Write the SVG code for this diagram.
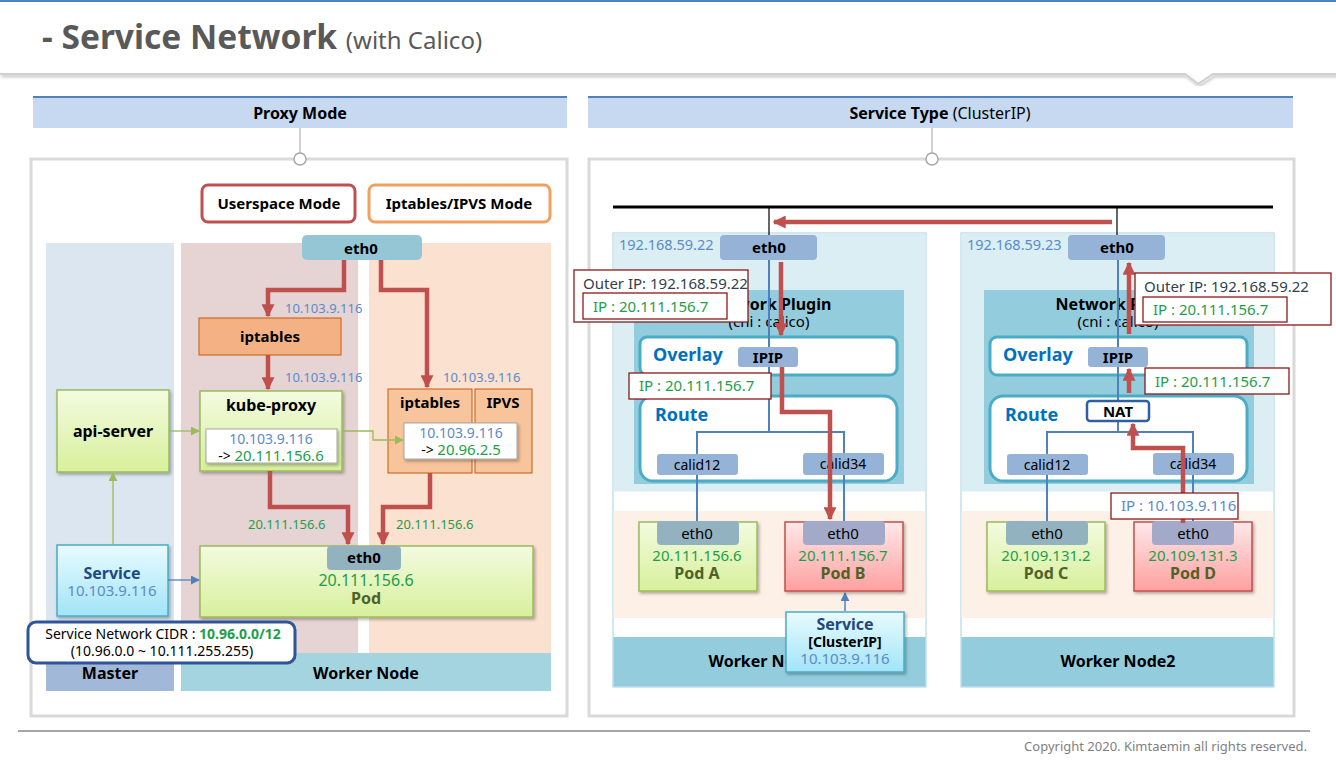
<svg xmlns="http://www.w3.org/2000/svg" width="1336" height="761" viewBox="0 0 1336 761">
<style>
text{font-family:"Noto Sans","Open Sans","Liberation Sans",sans-serif;}
.b{font-weight:bold;}
.c{text-anchor:middle;}
.lbl{font-size:13px;fill:#5b8bc9;}
.grn{fill:#1e9e4a;}
.blu{fill:#5b8bc9;}
.red{fill:none;stroke:#c0504d;stroke-width:4.5;}
.thinb{fill:none;stroke:#4f81bd;stroke-width:2;}
.hdr{fill:#c6d9f0;}
.panel{fill:#fff;stroke:#d9d9d9;stroke-width:3;}
.tag{fill:#95b3d7;}
.lbox{fill:#fff;stroke:#8b1a1a;stroke-width:1.3;}
.rbox{fill:#fff;stroke:#4bacc6;stroke-width:3;}
</style>
<defs>
<linearGradient id="gG" x1="0" y1="0" x2="0" y2="1"><stop offset="0" stop-color="#f3fbe0"/><stop offset="1" stop-color="#d7f09c"/></linearGradient>
<linearGradient id="gP" x1="0" y1="0" x2="0" y2="1"><stop offset="0" stop-color="#ffe8e8"/><stop offset="1" stop-color="#ffa0a0"/></linearGradient>
<linearGradient id="gC" x1="0" y1="0" x2="0" y2="1"><stop offset="0" stop-color="#e8fbff"/><stop offset="1" stop-color="#a2e4f8"/></linearGradient>
<filter id="sh" x="-10%" y="-10%" width="130%" height="130%"><feDropShadow dx="1.5" dy="2" stdDeviation="1.5" flood-color="#000" flood-opacity="0.3"/></filter>
<marker id="mr" viewBox="0 0 10 10" refX="9" refY="5" markerWidth="13" markerHeight="13" markerUnits="userSpaceOnUse" orient="auto"><path d="M0,0 L10,5 L0,10 z" fill="#c0504d"/></marker>
<marker id="mg" viewBox="0 0 10 10" refX="9" refY="5" markerWidth="9" markerHeight="9" markerUnits="userSpaceOnUse" orient="auto"><path d="M0,0 L10,5 L0,10 z" fill="#9bbb59"/></marker>
<marker id="mb" viewBox="0 0 10 10" refX="9" refY="5" markerWidth="9" markerHeight="9" markerUnits="userSpaceOnUse" orient="auto"><path d="M0,0 L10,5 L0,10 z" fill="#4f81bd"/></marker>
</defs>
<rect width="1336" height="761" fill="#fff"/>
<g id="title">
<rect x="0" y="0" width="1336" height="2" fill="#4f81bd"/>
<text x="42" y="49" font-size="33.5" class="b" fill="#595959">- Service Network <tspan font-size="24" font-weight="normal">(with Calico)</tspan></text>
<polyline points="0,74 1185,74 1198,84 1213,74 1336,74" fill="none" stroke="#d0d0d0" stroke-width="2" filter="url(#sh)"/>
</g>
<g id="footer">
<line x1="18" y1="731" x2="1310" y2="731" stroke="#a6a6a6" stroke-width="2"/>
<text x="1307" y="751" font-size="13" fill="#7f7f7f" text-anchor="end">Copyright 2020. Kimtaemin all rights reserved.</text>
</g>
<g id="proxy-mode-header">
<rect x="33" y="96" width="534" height="32" class="hdr"/>
<rect x="33" y="96" width="534" height="2" fill="#4f81bd"/>
<text x="300" y="119" font-size="16" class="b c">Proxy Mode</text>
<line x1="300" y1="128" x2="300" y2="153" stroke="#a6a6a6"/>
</g>
<g id="service-type-header">
<rect x="588" y="96" width="705" height="32" class="hdr"/>
<rect x="588" y="96" width="705" height="2" fill="#4f81bd"/>
<text x="940" y="119" font-size="16" class="c"><tspan class="b">Service Type</tspan> (ClusterIP)</text>
<line x1="932" y1="128" x2="932" y2="153" stroke="#a6a6a6"/>
</g>
<rect id="left-panel" x="31" y="159" width="536" height="557" class="panel"/>
<rect id="right-panel" x="589" y="159" width="705" height="557" class="panel"/>
<circle cx="300" cy="159" r="6" fill="#fff" stroke="#a6a6a6" stroke-width="1.5"/>
<circle cx="932" cy="159" r="6" fill="#fff" stroke="#a6a6a6" stroke-width="1.5"/>

<g id="userspace-mode"><rect x="202" y="185" width="153" height="37" rx="6" fill="#fff" stroke="#c0504d" stroke-width="3"/><text x="279" y="209" font-size="15" class="b c">Userspace Mode</text></g>
<g id="iptables-ipvs-mode"><rect x="369" y="185" width="181" height="37" rx="6" fill="#fff" stroke="#f0a060" stroke-width="3"/><text x="459" y="209" font-size="15" class="b c">Iptables/IPVS Mode</text></g>
<g id="master"><rect x="46" y="243" width="128" height="448" fill="#dce6f1"/><rect x="46" y="653" width="128" height="38" fill="#a2b8d8"/><text x="110" y="679" font-size="16" class="b c">Master</text></g>
<g id="worker-node"><rect x="181" y="243" width="177" height="410" fill="#e6d3d4"/><rect x="369" y="243" width="182" height="410" fill="#fbe1cf"/><rect x="181" y="653" width="370" height="38" fill="#a5d4e1"/><text x="366" y="679" font-size="16" class="b c">Worker Node</text></g>
<g id="eth0-top"><rect x="302" y="235" width="120" height="25" rx="5" fill="#95c6d5"/><text x="361" y="254" font-size="15" class="b c">eth0</text></g>
<g id="iptables-user"><rect x="199" y="318" width="142" height="37" fill="#f4b183" stroke="#c55a11" stroke-width="1"/><text x="270" y="342" font-size="15" class="b c">iptables</text></g>
<g id="kube-proxy"><rect x="200" y="391" width="142" height="80" fill="url(#gG)" stroke="#9bbb59" stroke-width="1.5" filter="url(#sh)"/><text x="271" y="411" font-size="16" class="b c">kube-proxy</text>
<rect x="206" y="429" width="131" height="34" fill="#fff" stroke="#a6a6a6" filter="url(#sh)"/><text x="271" y="444" font-size="14" class="c blu">10.103.9.116</text><text x="271" y="461" font-size="14" class="c">-&gt; <tspan class="grn" font-size="15">20.111.156.6</tspan></text></g>
<g id="iptables-ipvs"><rect x="388" y="389" width="84" height="84" fill="#f8c49b" stroke="#c55a11" stroke-width="1"/><text x="430" y="408" font-size="15" class="b c">iptables</text>
<rect x="475" y="389" width="57" height="84" fill="#f8c49b" stroke="#c55a11" stroke-width="1"/><text x="503" y="408" font-size="15" class="b c">IPVS</text>
<rect x="404" y="423" width="113" height="36" fill="#fff" stroke="#a6a6a6" filter="url(#sh)"/><text x="461" y="438" font-size="14" class="c blu">10.103.9.116</text><text x="461" y="455" font-size="14" class="c">-&gt; <tspan class="grn" font-size="15">20.96.2.5</tspan></text></g>
<g id="api-server"><rect x="57" y="390" width="112" height="82" fill="url(#gG)" stroke="#9bbb59" stroke-width="1.5" filter="url(#sh)"/><text x="113" y="437" font-size="16" class="b c">api-server</text></g>
<g id="pod"><rect x="200" y="546" width="333" height="71" fill="url(#gG)" stroke="#9bbb59" stroke-width="1.5" filter="url(#sh)"/><rect x="327" y="546" width="74" height="24" rx="4" fill="#93b2c0"/><text x="364" y="563" font-size="15" class="b c">eth0</text><text x="366" y="586" font-size="16" class="c grn">20.111.156.6</text><text x="366" y="604" font-size="16" class="b c" fill="#4f6228">Pod</text></g>
<g id="service-left"><rect x="57" y="545" width="111" height="71" fill="url(#gC)" stroke="#4bacc6" stroke-width="1.5" filter="url(#sh)"/><text x="112" y="579" font-size="16" class="b c" fill="#1f497d">Service</text><text x="112" y="596" font-size="15" class="c blu">10.103.9.116</text></g>
<g id="cidr"><rect x="28" y="622" width="267" height="41" rx="8" fill="#fff" stroke="#2e5597" stroke-width="3"/><text x="163" y="639" font-size="14" class="c">Service Network CIDR : <tspan class="b grn">10.96.0.0/12</tspan></text><text x="162" y="656" font-size="14" class="c">(10.96.0.0 ~ 10.111.255.255)</text></g>

<g id="worker-node1">
<rect x="613" y="233" width="313" height="454" fill="#fff" stroke="#a5cfe0" stroke-width="1"/>
<rect x="613.5" y="233.5" width="312" height="258" fill="#daeef3"/>
<rect x="613.5" y="511" width="312" height="107" fill="#fdf0e6"/>
<rect x="613.5" y="637" width="312" height="49.5" fill="#93cddd"/>
<text x="766" y="667" font-size="16" class="b c">Worker Node1</text>
<text x="619" y="250" font-size="14.5" class="blu">192.168.59.22</text>
<rect x="634" y="290" width="270" height="194" fill="#93cddd"/>
<text x="769" y="310" font-size="16" class="b c">Network Plugin</text>
<text x="769" y="327" font-size="15" class="c">(cni : calico)</text>
<rect x="640" y="337" width="257" height="38" rx="7" class="rbox"/>
<text x="653" y="361" font-size="18" class="b" fill="#0070c0">Overlay</text>
<rect x="640" y="396" width="257" height="85" rx="13" class="rbox"/>
<text x="655" y="421" font-size="18" class="b" fill="#0070c0">Route</text>
</g>
<g id="worker-node2">
<rect x="961" y="233" width="313" height="454" fill="#fff" stroke="#a5cfe0" stroke-width="1"/>
<rect x="961.5" y="233.5" width="312" height="258" fill="#daeef3"/>
<rect x="961.5" y="511" width="312" height="107" fill="#fdf0e6"/>
<rect x="961.5" y="637" width="312" height="49.5" fill="#93cddd"/>
<text x="1118" y="667" font-size="16" class="b c">Worker Node2</text>
<text x="967" y="250" font-size="14.5" class="blu">192.168.59.23</text>
<rect x="984" y="290" width="270" height="194" fill="#93cddd"/>
<text x="1118" y="310" font-size="16" class="b c">Network Plugin</text>
<text x="1118" y="327" font-size="15" class="c">(cni : calico)</text>
<rect x="990" y="337" width="257" height="38" rx="7" class="rbox"/>
<text x="1003" y="361" font-size="18" class="b" fill="#0070c0">Overlay</text>
<rect x="990" y="396" width="257" height="85" rx="13" class="rbox"/>
<text x="1005" y="421" font-size="18" class="b" fill="#0070c0">Route</text>
</g>

<g id="connectors">
<path class="red" d="M344,260 V290 H268 V316" marker-end="url(#mr)"/>
<path class="red" d="M381,260 V290 H427 V387" marker-end="url(#mr)"/>
<path class="red" d="M268,355 V389" marker-end="url(#mr)"/>
<path class="red" d="M270,471 V507 H348 V544" marker-end="url(#mr)"/>
<path class="red" d="M430,473 V507 H383 V544" marker-end="url(#mr)"/>
<path d="M169,431 H199" fill="none" stroke="#9bbb59" stroke-width="1.3" marker-end="url(#mg)"/>
<path d="M342,431 H373 V440 H403" fill="none" stroke="#9bbb59" stroke-width="1.3" marker-end="url(#mg)"/>
<path d="M113,545 V473" fill="none" stroke="#9bbb59" stroke-width="1.3" marker-end="url(#mg)"/>
<path d="M168,580 H199" fill="none" stroke="#4f81bd" stroke-width="1.3" marker-end="url(#mb)"/>
<line x1="613" y1="207" x2="1273" y2="207" stroke="#000" stroke-width="3"/>
<line x1="769" y1="207" x2="769" y2="236" stroke="#000" stroke-width="1.2"/>
<line x1="1117" y1="207" x2="1117" y2="236" stroke="#000" stroke-width="1.2"/>
<path class="red" d="M1112,222 H774" marker-end="url(#mr)"/>
<path class="thinb" d="M769,260 V432 M697,454 V432 H844 V453 M697,475 V522 M844,475 V522"/>
<path class="thinb" d="M1118,260 V401 M1118,421 V432 M1047,454 V432 H1193 V453 M1047,475 V522 M1193,475 V522"/>
<path d="M845,611 V593" fill="none" stroke="#4f81bd" stroke-width="1.5" marker-end="url(#mb)"/>
</g>

<g id="n1-eth0"><rect x="720" y="235" width="97" height="25" rx="4" class="tag"/><text x="769" y="253" font-size="15" class="b c">eth0</text></g>
<g id="n2-eth0"><rect x="1068" y="235" width="97" height="25" rx="4" class="tag"/><text x="1117" y="253" font-size="15" class="b c">eth0</text></g>
<g id="n1-ipip"><rect x="738" y="347" width="60" height="20" rx="3" class="tag"/><text x="768" y="363" font-size="15" class="b c">IPIP</text></g>
<g id="n2-ipip"><rect x="1088" y="347" width="60" height="20" rx="3" class="tag"/><text x="1118" y="363" font-size="15" class="b c">IPIP</text></g>
<g id="n2-nat"><rect x="1087" y="401" width="62" height="20" rx="3" fill="#fff" stroke="#2e5f9e" stroke-width="2.5"/><text x="1118" y="417" font-size="15" class="b c">NAT</text></g>
<g id="n1-calid12"><rect x="657" y="454" width="81" height="21" rx="3" class="tag"/><text x="697" y="470" font-size="14" class="c">calid12</text></g>
<g id="n1-calid34"><rect x="803" y="453" width="81" height="22" rx="3" class="tag"/><text x="843" y="469" font-size="14" class="c">calid34</text></g>
<g id="n2-calid12"><rect x="1007" y="454" width="81" height="21" rx="3" class="tag"/><text x="1047" y="470" font-size="14" class="c">calid12</text></g>
<g id="n2-calid34"><rect x="1153" y="453" width="81" height="22" rx="3" class="tag"/><text x="1193" y="469" font-size="14" class="c">calid34</text></g>

<g id="pod-a"><rect x="639" y="522" width="118" height="69" fill="url(#gG)" stroke="#9bbb59" stroke-width="1.5" filter="url(#sh)"/><rect x="657" y="521" width="82" height="24" rx="4" fill="#93b2c0"/><text x="697" y="539" font-size="15" class="c">eth0</text><text x="697" y="561" font-size="15" class="c grn">20.111.156.6</text><text x="697" y="579" font-size="16" class="b c" fill="#4f6228">Pod A</text></g>
<g id="pod-b"><rect x="785" y="522" width="118" height="69" fill="url(#gP)" stroke="#c0504d" stroke-width="1.5" filter="url(#sh)"/><rect x="803" y="521" width="82" height="24" rx="4" fill="#a2a9c9"/><text x="843" y="539" font-size="15" class="c">eth0</text><text x="843" y="561" font-size="15" class="c grn">20.111.156.7</text><text x="843" y="579" font-size="16" class="b c" fill="#4f6228">Pod B</text></g>
<g id="pod-c"><rect x="987" y="522" width="118" height="69" fill="url(#gG)" stroke="#9bbb59" stroke-width="1.5" filter="url(#sh)"/><rect x="1006" y="521" width="82" height="24" rx="4" fill="#93b2c0"/><text x="1047" y="539" font-size="15" class="c">eth0</text><text x="1046" y="561" font-size="15" class="c grn">20.109.131.2</text><text x="1046" y="579" font-size="16" class="b c" fill="#4f6228">Pod C</text></g>
<g id="pod-d"><rect x="1134" y="522" width="118" height="69" fill="url(#gP)" stroke="#c0504d" stroke-width="1.5" filter="url(#sh)"/><rect x="1152" y="521" width="82" height="24" rx="4" fill="#a2a9c9"/><text x="1193" y="539" font-size="15" class="c">eth0</text><text x="1193" y="561" font-size="15" class="c grn">20.109.131.3</text><text x="1193" y="579" font-size="16" class="b c" fill="#4f6228">Pod D</text></g>
<g id="service-clusterip"><rect x="786" y="612" width="118" height="60" fill="url(#gC)" stroke="#4bacc6" stroke-width="1.5" filter="url(#sh)"/><text x="845" y="630" font-size="16" class="b c" fill="#1f497d">Service</text><text x="845" y="647" font-size="14" class="b c">[ClusterIP]</text><text x="845" y="664" font-size="15" class="c blu">10.103.9.116</text></g>

<g id="flows">
<path class="red" d="M781,262 V335" marker-end="url(#mr)"/>
<path class="red" d="M782,367 V412 H830 V519" marker-end="url(#mr)"/>
<path class="red" d="M1183,523 V448 H1133 V424" marker-end="url(#mr)"/>
<path class="red" d="M1129,393 V369" marker-end="url(#mr)"/>
<path class="red" d="M1129,334 V263" marker-end="url(#mr)"/>
</g>

<g id="labels">
<text x="285" y="313" class="lbl">10.103.9.116</text>
<text x="285" y="382" class="lbl">10.103.9.116</text>
<text x="443" y="382" class="lbl">10.103.9.116</text>
<text x="248" y="529" font-size="13" class="grn">20.111.156.6</text>
<text x="396" y="529" font-size="13" class="grn">20.111.156.6</text>
</g>
<g id="outer-ip-1"><rect x="574" y="270" width="174" height="52" class="lbox"/><text x="583" y="289" font-size="15" fill="#333f50">Outer IP: 192.168.59.22</text><rect x="583" y="293" width="144" height="26" class="lbox"/><text x="593" y="312" font-size="15" class="grn">IP : 20.111.156.7</text></g>
<g id="inner-ip-1"><rect x="629" y="373" width="142" height="26" class="lbox"/><text x="639" y="391" font-size="15" class="grn">IP : 20.111.156.7</text></g>
<g id="outer-ip-2"><rect x="1135" y="273" width="196" height="52" class="lbox"/><text x="1144" y="292" font-size="15" fill="#333f50">Outer IP: 192.168.59.22</text><rect x="1143" y="297" width="144" height="25" class="lbox"/><text x="1153" y="315" font-size="15" class="grn">IP : 20.111.156.7</text></g>
<g id="inner-ip-2"><rect x="1145" y="368" width="144" height="26" class="lbox"/><text x="1155" y="387" font-size="15" class="grn">IP : 20.111.156.7</text></g>
<g id="svc-ip-2"><rect x="1111" y="493" width="127" height="26" class="lbox"/><text x="1121" y="511" font-size="15" class="blu">IP : 10.103.9.116</text></g>
</svg>
